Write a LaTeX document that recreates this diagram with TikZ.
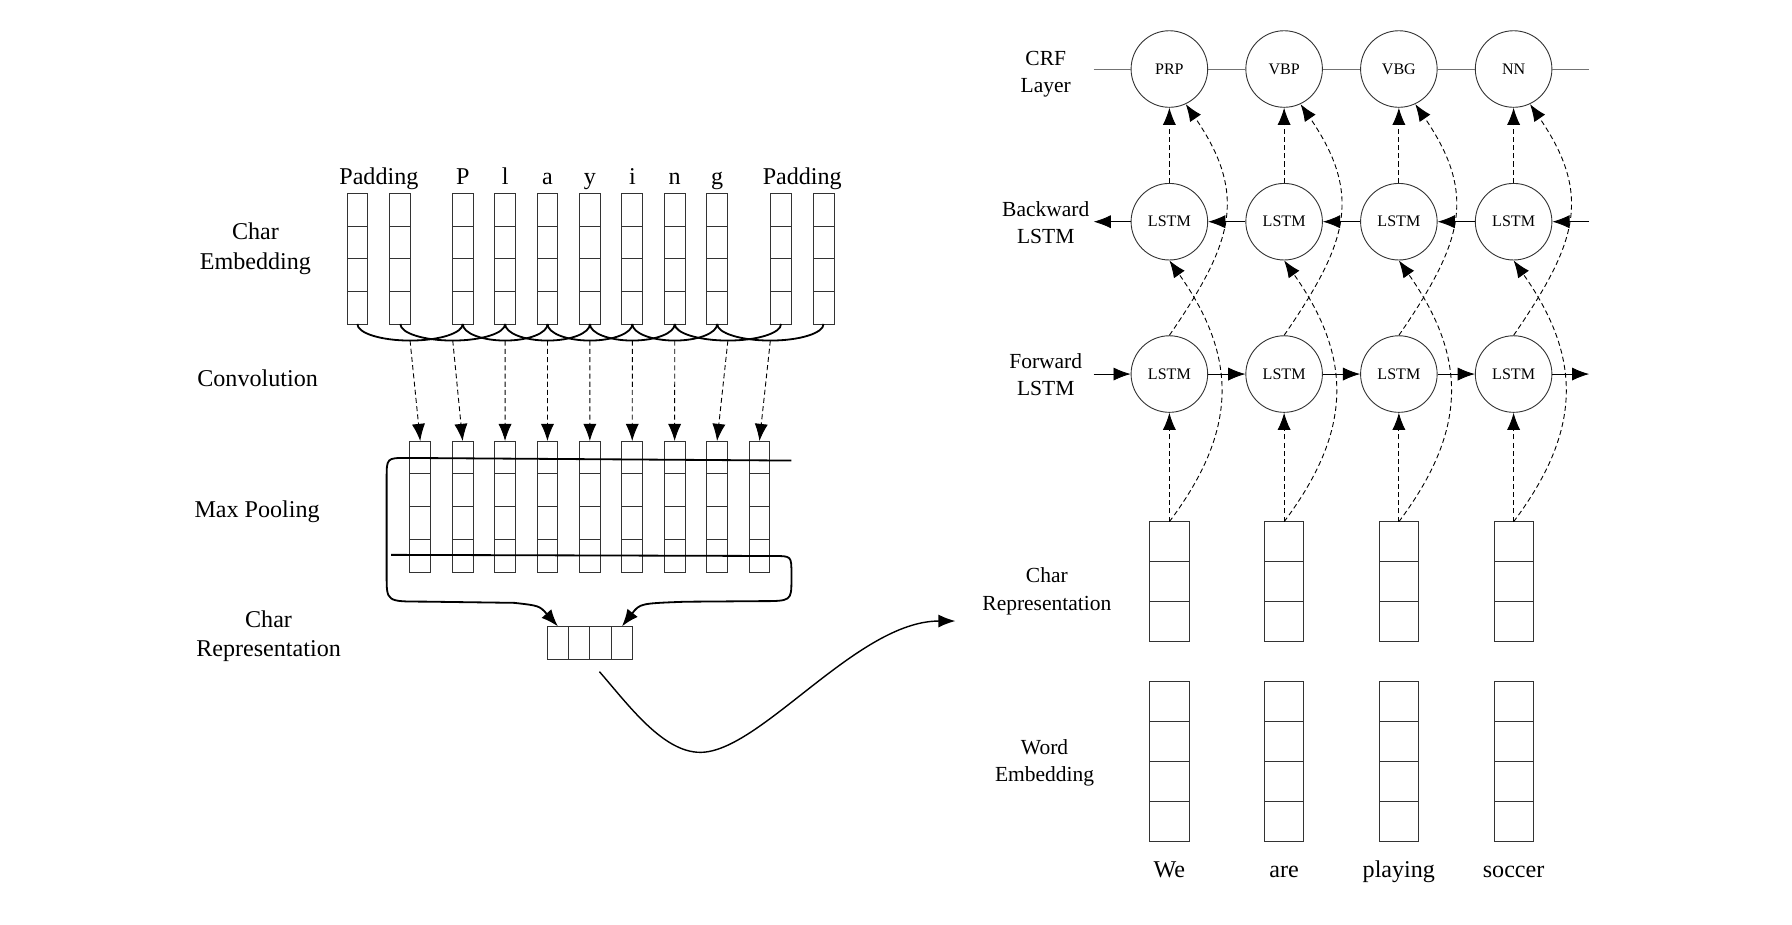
\documentclass[tikz,border=0pt]{standalone}
\usepackage{fontspec}
\setmainfont{Liberation Serif}
\usetikzlibrary{arrows.meta,calc}

\begin{document}
\begin{tikzpicture}[x=0.2mm, y=0.2mm,
	>={Latex[length=3mm,width=2.3mm]},
	box/.style={draw=black!80, line width=0.45pt},
	heavy/.style={line width=0.9pt},
	dashflow/.style={->, dash pattern=on 2.5pt off 1.6pt, line width=0.45pt},
	lstm/.style={circle, draw=black!80, line width=0.45pt, minimum size=13.4mm, inner sep=0pt, font=\fontsize{8}{9}\selectfont},
	lbl/.style={align=center, font=\fontsize{12}{14.7}\selectfont},
	rlbl/.style={align=center, font=\fontsize{10.7}{13.6}\selectfont},
	word/.style={anchor=base, font=\fontsize{12}{14}\selectfont}]
	\useasboundingbox (0,0) rectangle (1568,809);

	% char embedding
	\foreach \x [count=\k] in {303.6,341.2,395.8,432.9,470,507.1,544.2,581.3,618.4,674.3,711.5} {
		\draw[box] (\x,525.5) rectangle ++(18.2,114.3);
		\foreach \r in {1,2,3}
			\draw[box] (\x,525.5+28.575*\r) -- ++(18.2,0);
		\coordinate (emb\k) at (\x+9.1,525.5);
	}
	\node[word] (padl) at (331.5,647.5) {Padding};
	\node[word] (padr) at (702,647.5) {Padding};
	\foreach \c/\x in {P/404.9, l/442, a/479.1, y/516.2, i/553.3, n/590.4, g/627.5}
		\node[word] (chr\c) at (\x,647.5) {\c};

	% convolution windows
	\foreach \a/\b/\h [count=\k] in {1/3/46.1, 2/4/45.9, 3/5/37.1, 4/6/37.1, 5/7/37.1, 6/8/37.1, 7/9/37.1, 8/10/46.5, 9/11/46.6} {
		\coordinate (win\k) at ($(emb\a)!0.5!(emb\b)+(0,-14.5)$);
		\draw[heavy] (emb\a) .. controls +(0,-8) and +(-0.55*\h,0) .. (win\k)
			.. controls +(0.55*\h,0) and +(0,-8) .. (emb\b);
	}

	% max pooling
	\foreach \k in {1,...,9} {
		\draw[box] ({358.6+37.1*(\k-1)},308.5) rectangle ++(18.2,114.6);
		\foreach \r in {1,2,3}
			\draw[box] ({358.6+37.1*(\k-1)},308.5+28.65*\r) -- ++(18.2,0);
		\coordinate (pool\k) at ({367.7+37.1*(\k-1)},423.1);
		\draw[dashflow] (win\k) -- (pool\k);
	}

	% char representation (left)
	\draw[box] (478.9,232.4) rectangle (553.3,260.7);
	\foreach \x in {497.5,516.1,534.7}
		\draw[box] (\x,232.4) -- (\x,260.7);
	\coordinate (crepl) at (488.2,260.9);
	\coordinate (crepr) at (544.2,260.9);

	\coordinate (topend) at (692.5,406);
	\coordinate (botend) at (342.3,323.5);
	\draw[heavy, ->] (topend) -- (356,408.3) .. controls (338.3,408.3) .. (338.3,390)
		-- (338.3,305) .. controls (338.3,282.6) .. (370,282.6) -- (450,281.5)
		.. controls (472,279) .. (crepl);
	\draw[heavy, ->] (botend) -- (677,322.5) .. controls (692.5,322.5) .. (692.5,307)
		-- (692.5,302) .. controls (692.5,283) .. (665,283) -- (600,282.5)
		.. controls (560,281) .. (crepr);

	\coordinate (sstart) at (524.5,221.3);
	\coordinate (send) at (836,265.6);
	\draw[->, line width=0.7pt] (sstart) .. controls (550,192) and (580,150.7) .. (612.8,150.7)
		.. controls (665,150.7) and (750,265.6) .. (send);

	% bi-lstm + crf
	\foreach \x/\t/\w [count=\j] in {1023.2/PRP/We, 1123.6/VBP/are, 1224/VBG/playing, 1324.4/NN/soccer} {
		\node[lstm] (crf\j) at (\x,748.6) {\t};
		\node[lstm] (bwd\j) at (\x,615) {LSTM};
		\node[lstm] (fwd\j) at (\x,481.7) {LSTM};
		\draw[box] (\x-17.15,247.6) rectangle (\x+17.15,352.5);
		\draw[box] (\x-17.15,282.6) -- (\x+17.15,282.6);
		\draw[box] (\x-17.15,317.5) -- (\x+17.15,317.5);
		\coordinate (rep\j) at (\x,352.5);
		\draw[box] (\x-17.15,72.6) rectangle (\x+17.15,212.6);
		\foreach \r in {1,2,3}
			\draw[box] (\x-17.15,72.6+35*\r) -- (\x+17.15,72.6+35*\r);
		\node[word] (w\j) at (\x,41) {\w};

		\draw[dashflow] (rep\j) -- (fwd\j);
		\draw[dashflow] (bwd\j) -- (crf\j);
		\draw[dashflow] (fwd\j.north) .. controls +(55,80) and +(55,-80) .. (crf\j.-65);
		\draw[dashflow] (rep\j) .. controls +(60,80) and +(60,-85) .. (bwd\j.south);
	}

	\coordinate (crfin) at (957,748.6);
	\coordinate (crfout) at (1390.5,748.6);
	\draw[black!55] (crfin) -- (crf1) -- (crf2) -- (crf3) -- (crf4) -- (crfout);

	\coordinate (bwdin) at (1390.5,615);
	\coordinate (bwdout) at (957,615);
	\draw[->] (bwdin) -- (bwd4);
	\draw[->] (bwd4) -- (bwd3);
	\draw[->] (bwd3) -- (bwd2);
	\draw[->] (bwd2) -- (bwd1);
	\draw[->] (bwd1) -- (bwdout);

	\coordinate (fwdin) at (957,481.7);
	\coordinate (fwdout) at (1390.5,481.7);
	\draw[->] (fwdin) -- (fwd1);
	\draw[->] (fwd1) -- (fwd2);
	\draw[->] (fwd2) -- (fwd3);
	\draw[->] (fwd3) -- (fwd4);
	\draw[->] (fwd4) -- (fwdout);

	% layer names
	\node[lbl] (lcemb) at (223.5,591.5) {Char\\Embedding};
	\node[lbl] (lconv) at (225.4,478) {Convolution};
	\node[lbl] (lpool) at (225,361) {Max Pooling};
	\node[lbl] (lcrep) at (235,252.5) {Char\\Representation};
	\node[rlbl] (lcrf) at (915,744) {CRF\\Layer};
	\node[rlbl] (lbwd) at (915,614) {Backward\\LSTM};
	\node[rlbl] (lfwd) at (915,481) {Forward\\LSTM};
	\node[rlbl] (lrep) at (916,291.5) {Char\\Representation};
	\node[rlbl] (lword) at (914,141.5) {Word\\Embedding};
\end{tikzpicture}
\end{document}
